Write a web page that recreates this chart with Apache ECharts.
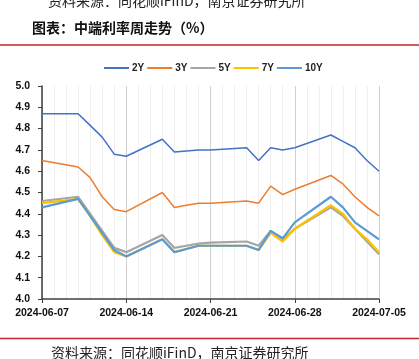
<!DOCTYPE html>
<html><head><meta charset="utf-8">
<script src="https://cdn.jsdelivr.net/npm/echarts@6/dist/echarts.min.js"></script>
<style>html,body{margin:0;padding:0;background:#fff}#c{width:419px;height:359px}</style>
</head><body><div id="c"></div>
<script>
const days = ['2024-06-07','2024-06-08','2024-06-09','2024-06-10','2024-06-11','2024-06-12','2024-06-13','2024-06-14','2024-06-15','2024-06-16','2024-06-17','2024-06-18','2024-06-19','2024-06-20','2024-06-21','2024-06-22','2024-06-23','2024-06-24','2024-06-25','2024-06-26','2024-06-27','2024-06-28','2024-06-29','2024-06-30','2024-07-01','2024-07-02','2024-07-03','2024-07-04','2024-07-05'];
const y2  = [4.87,null,null,4.87,4.815,4.76,4.68,4.67,null,null,4.75,4.69,4.695,4.70,4.70,null,null,4.71,4.65,4.71,4.70,4.71,null,null,4.77,4.74,4.71,4.65,4.60];
const y3  = [4.65,null,null,4.62,4.57,4.48,4.42,4.41,null,null,4.50,4.43,4.44,4.45,4.45,null,null,4.46,4.45,4.53,4.49,4.515,null,null,4.58,4.54,4.48,4.43,4.39];
const y5  = [4.46,null,null,4.48,4.40,4.32,4.24,4.22,null,null,4.30,4.24,4.25,4.26,4.265,null,null,4.27,4.25,4.32,4.28,4.33,null,null,4.43,4.39,4.33,4.27,4.21];
const y7  = [4.45,null,null,4.47,4.39,4.30,4.22,4.20,null,null,4.28,4.22,4.235,4.25,4.25,null,null,4.25,4.23,4.31,4.27,4.33,null,null,4.44,4.40,4.33,4.28,4.22];
const y10 = [4.43,null,null,4.47,4.39,4.31,4.23,4.20,null,null,4.28,4.22,4.235,4.25,4.25,null,null,4.25,4.23,4.32,4.285,4.36,null,null,4.48,4.43,4.36,4.32,4.28];
const names = ['2Y','3Y','5Y','7Y','10Y'];
const colors = ['#4472C4','#ED7D31','#A5A5A5','#FFC000','#5B9BD5'];
const widths = [1.5,1.5,2.2,2.2,2.2];
const yTicks = [4.0,4.1,4.2,4.3,4.4,4.5,4.6,4.7,4.8,4.9,5.0];

const chart = echarts.init(document.getElementById('c'));
const seriesData = [y2,y3,y5,y7,y10];
chart.setOption({
  animation:false,
  textStyle:{fontFamily:'Liberation Sans, Arial, sans-serif'},
  title:[
    {text:'资料来源：同花顺iFinD，南京证券研究所',left:43,top:-11,textStyle:{fontFamily:'Noto Sans CJK SC',fontSize:14,fontWeight:'normal',color:'#222'}},
    {text:'图表：中端利率周走势（%）',left:27,top:16,textStyle:{fontFamily:'Noto Sans CJK SC',fontSize:14,fontWeight:'bold',color:'#111'}},
    {text:'资料来源：同花顺iFinD，南京证券研究所',left:46,top:341,textStyle:{fontFamily:'Noto Sans CJK SC',fontSize:14,fontWeight:'normal',color:'#222'}}
  ],
  graphic:[
    {type:'line',shape:{x1:0,y1:45,x2:419,y2:45},style:{stroke:'#C0282D',lineWidth:1.5}},
    {type:'line',shape:{x1:0,y1:338.5,x2:419,y2:338.5},style:{stroke:'#C0282D',lineWidth:1.5}}
  ],
  legend:{
    left:99, top:58, itemWidth:25, itemHeight:2, itemGap:3, icon:'rect',
    data:names,
    textStyle:{fontSize:10,fontWeight:'bold',color:'#222',width:22,padding:[0,0,0,-2]}
  },
  grid:{left:42,right:40,top:86,bottom:60},
  xAxis:{
    type:'category', data:days, boundaryGap:false,
    axisLine:{lineStyle:{color:'#404040',width:1.5}},
    axisTick:{show:true,interval:6,length:4,lineStyle:{color:'#404040'}},
    axisLabel:{interval:6,margin:9,fontSize:10.5,fontWeight:'bold',color:'#111'},
    splitLine:{show:true,interval:0,lineStyle:{color:['#D0D0D0','#EFEFEF','#EFEFEF','#EFEFEF','#EFEFEF','#EFEFEF','#EFEFEF'],width:1}}
  },
  yAxis:{
    type:'value', min:yTicks[0], max:yTicks[yTicks.length-1], interval:0.1,
    axisLine:{show:true,lineStyle:{color:'#404040',width:1.5}},
    axisTick:{show:true,length:4,lineStyle:{color:'#404040'}},
    axisLabel:{margin:12,fontSize:10.5,fontWeight:'bold',color:'#111',formatter:v=>v.toFixed(1)},
    splitLine:{show:false}
  },
  series: names.map((n,i)=>({
    name:n, type:'line', data:seriesData[i], connectNulls:true,
    symbol:'none', color:colors[i],
    lineStyle:{width:widths[i],color:colors[i]}
  }))
});
</script></body></html>
